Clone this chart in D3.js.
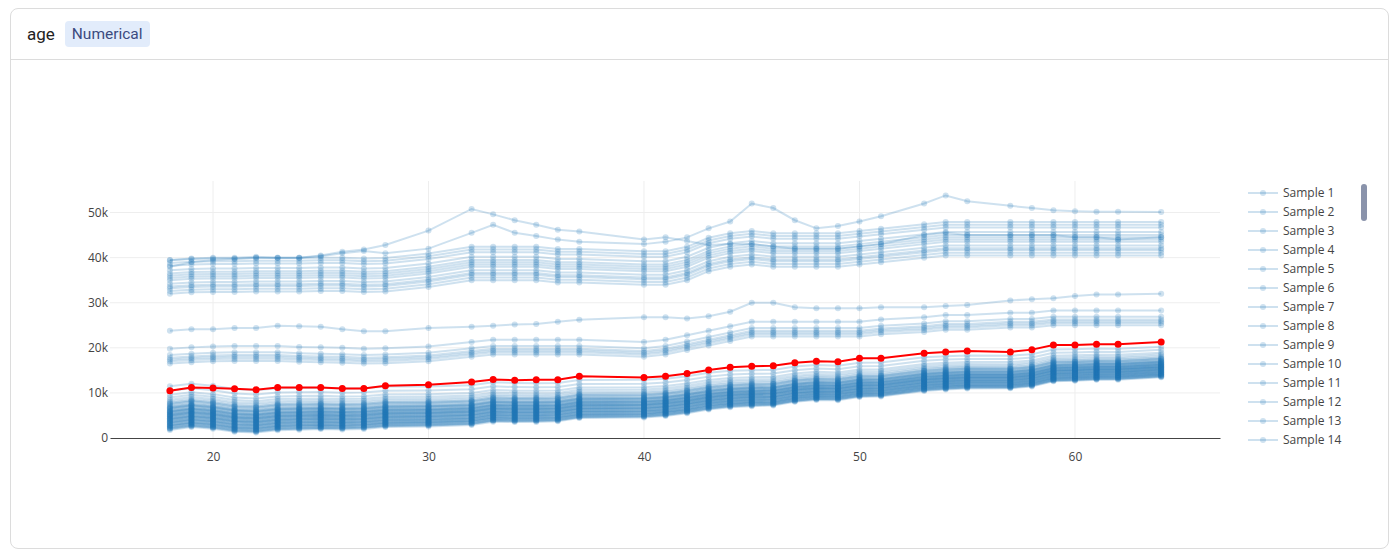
<!DOCTYPE html>
<html>
<head>
<meta charset="utf-8">
<script src="https://cdn.jsdelivr.net/npm/d3@7"></script>
<style>
body{margin:0;background:#fff;font-family:Roboto,"Open Sans",sans-serif;}
#card{position:absolute;left:10px;top:8px;width:1377px;height:539px;border:1px solid #dcdcdc;border-radius:8px;overflow:hidden;}
#head{height:50px;border-bottom:1px solid #dcdcdc;display:flex;align-items:center;padding-left:16px;}
#head .name{font-size:17px;color:#222;margin-right:10px;}
#head .badge{font-size:15.5px;color:#3b4a80;background:#e2ecfb;border-radius:4px;padding:4px 7px;}
#scroll{position:absolute;left:1350px;top:175px;width:6px;height:37px;background:#8a93ab;border-radius:3px;}
</style>
</head>
<body>
<div id="card">
  <div id="head"><span class="name">age</span><span class="badge">Numerical</span></div>
  <div id="scroll"></div>
</div>
<svg id="chart" width="1394" height="555" style="position:absolute;left:0;top:0"></svg>
<script>
// ages sampled for the ICE curves
var ages = [18,19,20,21,22,23,24,25,26,27,28,30,32,33,34,35,36,37,40,41,42,43,44,45,46,47,48,49,50,51,53,54,55,57,58,59,60,61,62,64];

// average (PDP) line, in k
var avg = [10.5,11.2,11.1,10.9,10.7,11.2,11.2,11.2,11,11,11.6,11.8,12.4,13,12.8,12.9,12.9,13.7,13.4,13.7,14.3,15.1,15.7,15.9,16,16.7,17,16.9,17.7,17.7,18.8,19.1,19.3,19.1,19.6,20.6,20.6,20.8,20.8,21.3];

// cluster shapes
var lowShape = [5,5.6,5.2,4.5,4.3,4.8,4.9,5,4.9,5,5.4,5.5,5.8,6.5,6.4,6.4,6.5,7.2,7.3,7.6,8.2,9,9.5,9.7,9.8,10.6,11,10.9,11.6,11.7,12.9,13.2,13.4,13.4,13.8,14.9,15,15.2,15.2,15.7];
var midShape = [0,0.3,0.5,0.6,0.6,0.6,0.4,0.3,0.2,0,0.1,0.5,1.5,2,2,2,2,2,1.5,2,3,4,5,6,6,6,6,6,6,6.5,7,7.5,7.5,8,8,8.5,8.5,8.5,8.5,8.5];
var topShape = [0,0.3,0.4,0.4,0.5,0.5,0.5,0.6,0.6,0.4,0.5,1.5,3,3,3,3,2.5,2.5,2,2,3,5,6,6.5,6,6,6,6,6.5,7,8,8.5,8.5,8.5,8.5,8.5,8.5,8.5,8.5,8.5];

var peakA = [38,39,39.5,39.7,40,40,40,40.5,41.3,41.8,42.8,46,50.8,49.6,48.3,47.3,46.2,45.8,44,44.5,43.7,42.8,43,43,42.5,42,42,42,42.5,43,45,45.5,45,45,45,45,44.5,44.5,44,44.5];
var peakB = [39.5,39.8,40,40,40.2,40,40,40.3,41,41.5,41,42,45.5,47.3,45.5,44.8,44,43.5,43,43.5,44.5,46.5,48,52,51,48.3,46.5,47,48,49.2,52,53.8,52.5,51.5,51,50.5,50.3,50.2,50.2,50.1];
var lowA = [23.8,24.1,24.1,24.4,24.4,24.9,24.8,24.7,24.1,23.7,23.7,24.4,24.7,24.9,25.2,25.3,25.8,26.2,26.8,26.8,26.5,27,28,30,30,29,28.8,28.8,28.8,29,29,29.3,29.5,30.5,30.8,31,31.5,31.8,31.8,32];

var topLevels = [32,32.6,33.2,33.6,34.2,35,35.5,36,36.5,37.2,38.2,38.8,39.4];
var midLevels = [16.5,17,17.4,17.8,18.4,19.8];
var lowOffsets = [-3.2,-3,-2.8,-2.7,-2.5,-2.4,-2.2,-2.1,-2,-1.8,-1.7,-1.5,-1.4,-1.3,-1.1,-1,-0.9,-0.7,-0.6,-0.5,-0.3,-0.2,-0.1,0,0.2,0.3,0.4,0.6,0.7,0.8,1,1.1,1.3,1.5,1.6,1.8,2,2.2,2.5,2.8,3.1,3.5,4,4.6,5.5,6.5,-2.9,-2.3,-1.6,-0.8,0.1,0.9,1.7,2.6];

var samples = [peakA.map(v => v * 1000), peakB.map(v => v * 1000)];
topLevels.forEach(l => samples.push(topShape.map(v => (l + v) * 1000)));
samples.push(lowA.map(v => v * 1000));
midLevels.forEach(l => samples.push(midShape.map(v => (l + v) * 1000)));
lowOffsets.forEach(o => samples.push(lowShape.map((v, j) => (v + o * (1 - 0.3 * j / 39)) * 1000)));

var svg = d3.select("#chart");
var margin = {left: 110, right: 174};
var x = d3.scaleLinear().domain([15.22, 66.73]).range([margin.left, 1394 - margin.right]);
var y = d3.scaleLinear().domain([0, 57000]).range([438, 181]);

// grid
svg.append("g").selectAll("line").data([20,30,40,50,60]).join("line")
	.attr("x1", d => x(d)).attr("x2", d => x(d)).attr("y1", 181).attr("y2", 438)
	.attr("stroke", "#eee");
svg.append("g").selectAll("line").data([10000,20000,30000,40000,50000]).join("line")
	.attr("x1", margin.left).attr("x2", 1394 - margin.right).attr("y1", d => y(d)).attr("y2", d => y(d))
	.attr("stroke", "#eee");

var line = d3.line().x((d, i) => x(ages[i])).y(d => y(d));

var sg = svg.append("g");
samples.forEach(s => {
	var g = sg.append("g");
	g.append("path").attr("d", line(s)).attr("fill", "none")
		.attr("stroke", "#1f77b4").attr("stroke-opacity", 0.22).attr("stroke-width", 2);
	g.selectAll("circle").data(s).join("circle")
		.attr("cx", (d, i) => x(ages[i])).attr("cy", d => y(d)).attr("r", 3)
		.attr("fill", "#1f77b4").attr("fill-opacity", 0.22);
});

var avgK = avg.map(v => v * 1000);
svg.append("path").attr("d", line(avgK)).attr("fill", "none").attr("stroke", "red").attr("stroke-width", 2);
svg.append("g").selectAll("circle").data(avgK).join("circle")
	.attr("cx", (d, i) => x(ages[i])).attr("cy", d => y(d)).attr("r", 3.5).attr("fill", "red");

// axes
var xAxis = svg.append("g").attr("transform", "translate(0,438)")
	.call(d3.axisBottom(x).tickValues([20,30,40,50,60]).tickSize(0).tickPadding(14));
xAxis.select(".domain").attr("stroke", "#444");
var yAxis = svg.append("g").attr("transform", `translate(${margin.left},0)`)
	.call(d3.axisLeft(y).tickValues([0,10000,20000,30000,40000,50000]).tickSize(0).tickPadding(2)
		.tickFormat(d => d == 0 ? "0" : d / 1000 + "k"));
yAxis.select(".domain").remove();
svg.selectAll(".tick text").attr("font-family", "'Open Sans',sans-serif").attr("font-size", 12).attr("fill", "#444");

// legend
var leg = svg.append("g").attr("transform", "translate(1248,193)");
d3.range(14).forEach(i => {
	var r = leg.append("g").attr("transform", `translate(0,${i * 19})`);
	r.append("line").attr("x1", 0).attr("x2", 30).attr("stroke", "#1f77b4").attr("stroke-opacity", 0.22).attr("stroke-width", 2);
	r.append("circle").attr("cx", 15).attr("r", 3).attr("fill", "#1f77b4").attr("fill-opacity", 0.22);
	r.append("text").attr("x", 35).attr("dy", "0.35em").attr("font-family", "'Open Sans',sans-serif")
		.attr("font-size", 12).attr("fill", "#444").text("Sample " + (i + 1));
});
</script>
</body>
</html>
